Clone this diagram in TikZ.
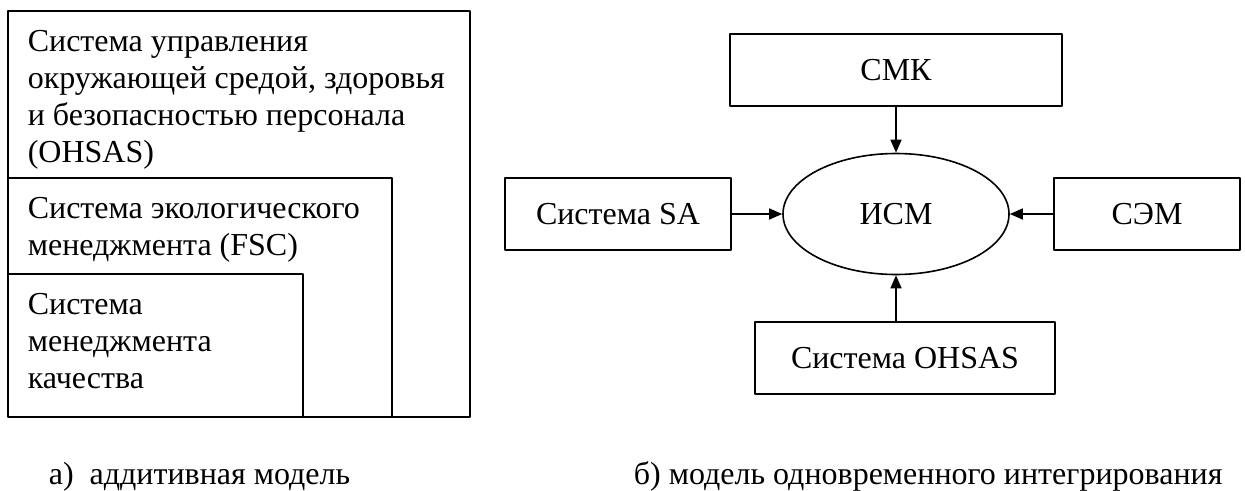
\documentclass[tikz,border=0pt]{standalone}
\usepackage{fontspec}
\setmainfont{Liberation Serif}
\usetikzlibrary{arrows.meta,shapes.geometric}
\begin{document}
\begin{tikzpicture}[x=1pt,y=-1pt,line join=round,>={Triangle[length=13pt,width=11pt]},font=\fontsize{32}{37}\selectfont]
	\useasboundingbox(0,0)rectangle(1245,490);
	\begin{scope}[line width=1.6pt]
		\tikzset{chu-trong/.style={anchor=north west,align=left,inner sep=0pt},
			khoi-he/.style={draw,rectangle,minimum height=72pt,inner sep=0pt},
			khoi-tam/.style={draw,ellipse,minimum width=226pt,minimum height=121pt,inner sep=0pt}}
		% a) additive model
		\draw(8,11)rectangle(470,417);
		\draw(8,178)--(392,178)--(392,417);
		\draw(8,274)--(303,274)--(303,417);
		\node[chu-trong](t-ohsas) at (27,30){Система управления\\окружающей средой, здоровья\\и безопасностью персонала\\(OHSAS)};
		\node[chu-trong](t-fsc) at (27,197){Система экологического\\менеджмента (FSC)};
		\node[chu-trong](t-smk) at (27,293){Система\\менеджмента\\качества};
		% b) simultaneous integration
		\node[khoi-tam](ism) at (896,214){ИСМ};
		\node[khoi-he,minimum width=332pt](smk) at (896,70){СМК};
		\node[khoi-he,minimum width=226pt](sa) at (618,214){Система SA};
		\node[khoi-he,minimum width=186pt](sem) at (1147,214){СЭМ};
		\node[khoi-he,minimum width=300pt](ohsas) at (905,358){Система OHSAS};
		\draw[->](smk.south -| ism)--(ism);
		\draw[->](ohsas.north -| ism)--(ism);
		\draw[->](sa)--(ism);
		\draw[->](sem)--(ism);
		% captions
		\node[anchor=base west,inner sep=0pt](cap-a) at (48,484){а)~~аддитивная модель};
		\node[anchor=base west,inner sep=0pt](cap-b) at (633,484){б) модель одновременного интегрирования};
	\end{scope}
\end{tikzpicture}
\end{document}
